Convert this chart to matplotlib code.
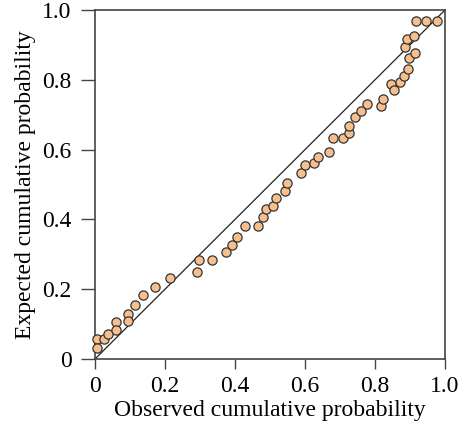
import matplotlib
matplotlib.use("Agg")
import matplotlib.pyplot as plt

observed = [0.005, 0.005, 0.027, 0.038, 0.060, 0.060, 0.093, 0.093, 0.115, 0.136,
            0.170, 0.213, 0.297, 0.290, 0.335, 0.374, 0.390, 0.405, 0.429, 0.467,
            0.481, 0.488, 0.509, 0.518, 0.542, 0.548, 0.588, 0.601, 0.626, 0.638,
            0.669, 0.679, 0.709, 0.726, 0.725, 0.743, 0.759, 0.778, 0.816, 0.824,
            0.845, 0.854, 0.871, 0.883, 0.894, 0.896, 0.913, 0.887, 0.892, 0.912,
            0.916, 0.946, 0.978]
expected = [0.058, 0.032, 0.058, 0.072, 0.106, 0.084, 0.128, 0.109, 0.154, 0.183,
            0.206, 0.232, 0.284, 0.250, 0.284, 0.307, 0.328, 0.350, 0.381, 0.381,
            0.406, 0.429, 0.439, 0.460, 0.481, 0.503, 0.534, 0.555, 0.561, 0.580,
            0.594, 0.633, 0.633, 0.647, 0.669, 0.694, 0.712, 0.730, 0.724, 0.745,
            0.788, 0.771, 0.795, 0.811, 0.831, 0.862, 0.876, 0.895, 0.916, 0.926,
            0.968, 0.968, 0.968]
ticks = [0, 0.2, 0.4, 0.6, 0.8, 1.0]
tick_labels = ["0", "0.2", "0.4", "0.6", "0.8", "1.0"]

plt.rcParams['font.family'] = ['Liberation Serif', 'DejaVu Serif']

fig = plt.figure(figsize=(4.61, 4.23), dpi=100)
ax = fig.add_axes([95/461, 1-359/423, 350/461, 349/423])

ax.plot([0, 1], [0, 1], color='#222222', lw=0.9, zorder=2)
ax.scatter(observed, expected, s=44, facecolor='#F8BF8E', edgecolor='#333333',
           linewidth=0.9, zorder=3, clip_on=False)

ax.set_xlim(0, 1)
ax.set_ylim(0, 1)
ax.set_xticks(ticks)
ax.set_xticklabels(tick_labels)
ax.set_yticks(ticks)
ax.set_yticklabels(tick_labels)
ax.tick_params(axis='y', direction='out', length=10, width=1, color='#444444',
               labelsize=17, pad=7)
ax.tick_params(axis='x', direction='out', length=7.5, width=1, color='#444444',
               labelsize=17, pad=5)
for s in ax.spines.values():
    s.set_color('#444444')
    s.set_linewidth(1.2)

ax.set_xlabel('Observed cumulative probability', fontsize=17, labelpad=2)
ax.set_ylabel('Expected cumulative probability', fontsize=17, labelpad=4)

fig.savefig('out.png', dpi=100)
